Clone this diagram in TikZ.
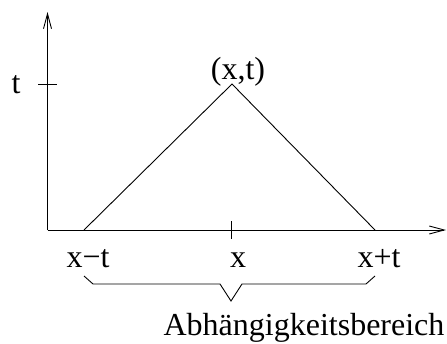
\documentclass[tikz,border=0pt]{standalone}
\usepackage{fontspec}
\setmainfont{Liberation Serif}
\usetikzlibrary{arrows.meta}
\begin{document}
\begin{tikzpicture}[x=1pt,y=-1pt,line width=0.9pt,
  lbl/.style={inner sep=0pt,anchor=base,font=\fontsize{32}{38}\selectfont},
  axisarrow/.style={-{Straight Barb[length=15pt,width=8pt,line width=0.9pt]}}]
\useasboundingbox (0,0) rectangle (447,343);
\coordinate (O) at (47.5,230);
\coordinate (ytop) at (47.5,12);
\coordinate (xend) at (446,230);
\coordinate (A) at (84,230);
\coordinate (P) at (232,84);
\coordinate (B) at (375,230);
\coordinate (tl) at (38,84);
\coordinate (tr) at (57,84);
\coordinate (xt) at (231,221);
\coordinate (xb) at (231,239);
\draw[axisarrow] (O) -- (ytop);
\draw[axisarrow] (O) -- (xend);
\draw (tl) -- (tr);
\draw (xt) -- (xb);
\draw (A) -- (P) -- (B);
\coordinate (b1) at (84,276);
\coordinate (b2) at (93,284);
\coordinate (b3) at (220,284);
\coordinate (b4) at (231,301);
\coordinate (b5) at (242,284);
\coordinate (b6) at (366,284);
\coordinate (b7) at (375,276);
\draw (b1) -- (b2) -- (b3) -- (b4) -- (b5) -- (b6) -- (b7);
\node[lbl] (tlab) at (16,93) {t};
\node[lbl] (plab) at (238,79) {(x,t)};
\node[lbl] (xm) at (88,267) {x\textminus t};
\node[lbl] (xc) at (238,267) {x};
\node[lbl] (xp) at (379,267) {x+t};
\node[lbl] (ab) at (304,335) {Abhängigkeitsbereich};
\end{tikzpicture}
\end{document}
